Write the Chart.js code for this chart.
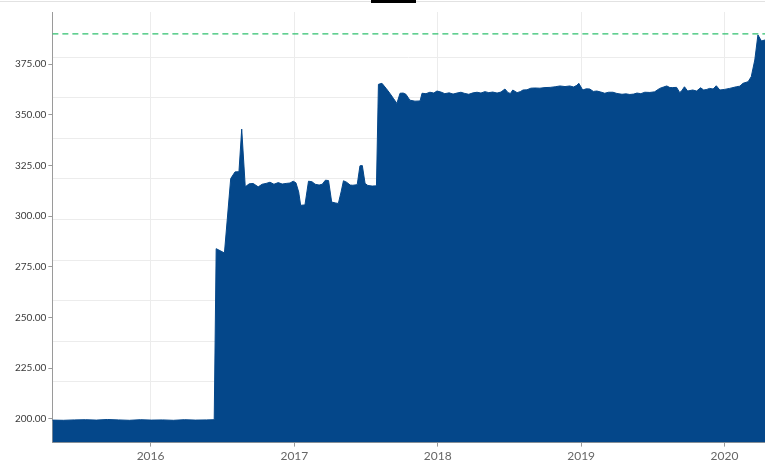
<!DOCTYPE html>
<html>
<head>
<meta charset="utf-8">
<script src="https://cdn.jsdelivr.net/npm/chart.js@4/dist/chart.umd.min.js"></script>
<style>
  body { margin: 0; background: #fff; overflow: hidden; }
  .wrap { position: relative; width: 765px; height: 463px; }
  .tabline { position: absolute; top: 1px; left: 0; width: 765px; height: 1px; background: #e2e2e2; }
  .tabactive { position: absolute; top: 0; left: 371px; width: 45px; height: 3px; background: #000; }
</style>
</head>
<body>
<div class="wrap">
  <canvas id="priceChart" width="765" height="463"></canvas>
  <div class="tabline"></div>
  <div class="tabactive"></div>
</div>
<script>
// weekly-ish price readings
const dates = [
  '2015-04-26','2015-05-24','2015-06-21','2015-07-19','2015-08-16','2015-09-13','2015-10-11','2015-11-08',
  '2015-12-06','2016-01-03','2016-01-31','2016-02-28','2016-03-27','2016-04-24','2016-05-22','2016-06-11',
  '2016-06-16','2016-07-07','2016-07-23','2016-08-03','2016-08-13','2016-08-20','2016-08-29','2016-09-08',
  '2016-09-18','2016-10-01','2016-10-11','2016-10-21','2016-10-31','2016-11-10','2016-11-21','2016-12-01',
  '2016-12-11','2016-12-21','2016-12-29','2017-01-05','2017-01-12','2017-01-17','2017-01-28','2017-02-06',
  '2017-02-15','2017-02-23','2017-03-05','2017-03-13','2017-03-21','2017-03-29','2017-04-06','2017-04-15',
  '2017-04-23','2017-04-30','2017-05-06','2017-05-14','2017-05-23','2017-05-30','2017-06-10','2017-06-17',
  '2017-06-23','2017-06-30','2017-07-07','2017-07-18','2017-07-29','2017-08-03','2017-08-12','2017-08-23',
  '2017-09-01','2017-09-10','2017-09-19','2017-09-27','2017-10-05','2017-10-12','2017-10-22','2017-11-04',
  '2017-11-17','2017-11-22','2017-12-02','2017-12-12','2017-12-22','2017-12-30','2018-01-09','2018-01-19',
  '2018-01-30','2018-02-09','2018-02-19','2018-03-01','2018-03-11','2018-03-21','2018-04-01','2018-04-11',
  '2018-04-21','2018-05-01','2018-05-11','2018-05-21','2018-06-01','2018-06-11','2018-06-21','2018-06-29',
  '2018-07-05','2018-07-11','2018-07-22','2018-07-30','2018-08-06','2018-08-16','2018-08-26','2018-09-05',
  '2018-09-18','2018-10-01','2018-10-14','2018-10-27','2018-11-08','2018-11-21','2018-12-03','2018-12-13',
  '2018-12-21','2018-12-26','2019-01-05','2019-01-14','2019-01-23','2019-02-01','2019-02-10','2019-02-20',
  '2019-03-02','2019-03-12','2019-03-23','2019-04-02','2019-04-15','2019-04-25','2019-05-05','2019-05-15',
  '2019-05-23','2019-06-02','2019-06-12','2019-06-25','2019-07-07','2019-07-20','2019-07-30','2019-08-07',
  '2019-08-15','2019-08-22','2019-09-01','2019-09-09','2019-09-15','2019-09-21','2019-09-29','2019-10-12',
  '2019-10-22','2019-11-01','2019-11-09','2019-11-17','2019-11-24','2019-12-03','2019-12-11','2019-12-20',
  '2020-01-01','2020-01-14','2020-01-31','2020-02-09','2020-02-17','2020-03-01','2020-03-09','2020-03-18',
  '2020-03-26','2020-03-31','2020-04-04','2020-04-13'
];
const prices = [
  199.4,199.3,199.5,199.6,199.4,199.7,199.5,199.3,
  199.6,199.4,199.5,199.3,199.6,199.4,199.5,199.6,
  284.0,281.9,318.6,321.9,322.0,343.0,314.5,316.0,
  316.2,314.5,315.8,316.2,316.8,315.8,316.6,315.9,
  316.2,316.4,317.3,316.5,312.0,305.4,305.6,317.3,
  317.0,315.8,315.4,315.8,317.8,317.6,307.0,306.6,
  306.3,312.0,317.5,316.8,315.4,315.3,315.6,324.9,
  325.0,316.2,315.2,314.9,315.0,365.1,365.6,363.0,
  360.7,358.2,355.7,360.7,360.8,360.2,357.3,356.8,
  356.9,360.7,360.5,361.2,360.8,361.8,361.3,360.5,
  360.9,360.3,360.8,361.2,360.6,360.2,360.9,361.2,
  360.8,361.5,361.0,361.3,360.8,361.3,362.8,361.0,
  360.6,362.3,361.0,361.5,362.3,362.4,363.2,363.3,
  363.2,363.5,363.6,363.9,364.3,364.0,364.3,363.8,
  364.6,365.6,362.3,362.9,362.8,361.6,361.8,361.3,
  360.7,361.2,361.2,360.6,360.2,360.4,360.1,360.3,
  360.8,360.5,361.2,361.1,361.4,363.1,363.8,364.3,
  363.5,363.5,363.6,361.0,362.2,363.9,361.8,362.3,
  361.8,363.4,362.3,362.6,363.1,362.8,364.4,362.3,
  362.6,363.1,363.9,364.2,365.6,366.4,368.9,377.1,
  389.5,387.8,386.5,387.0
];
const targetLevel = 390;
const yearLabels = ['2016', '2017', '2018', '2019', '2020'];
const yTickValues = [200, 225, 250, 275, 300, 325, 350, 375];

const xMin = Date.parse('2015-04-26');
const xMax = Date.parse('2020-04-13');

const points = dates.map((d, i) => ({ x: Date.parse(d), y: prices[i] }));
const yearTicks = yearLabels.map(y => Date.UTC(+y, 0, 1));

const gridColor = '#ececec';
const axisColor = '#9a9a9a';

new Chart(document.getElementById('priceChart'), {
  type: 'line',
  data: {
    datasets: [
      {
        label: 'target',
        data: [{ x: xMin, y: targetLevel }, { x: xMax, y: targetLevel }],
        borderColor: '#2fc06e',
        borderWidth: 1.3,
        borderDash: [6, 4],
        pointRadius: 0,
        fill: false
      },
      {
        label: 'price',
        data: points,
        borderColor: '#04478a',
        backgroundColor: '#04478a',
        borderWidth: 1,
        pointRadius: 0,
        tension: 0,
        fill: 'start'
      }
    ]
  },
  options: {
    responsive: false,
    animation: false,
    layout: { padding: { top: 12, left: 13, right: 0, bottom: -2 } },
    plugins: { legend: { display: false }, tooltip: { enabled: false } },
    scales: {
      x: {
        type: 'linear',
        min: xMin,
        max: xMax,
        afterBuildTicks: axis => { axis.ticks = yearTicks.map(v => ({ value: v })); },
        ticks: {
          callback: (v) => String(new Date(v).getUTCFullYear()),
          color: '#666',
          font: { family: 'Lato', size: 12 },
          padding: 2,
          maxRotation: 0
        },
        grid: { color: gridColor, tickColor: axisColor, tickLength: 4 },
        border: { color: axisColor }
      },
      y: {
        min: 188.3,
        max: 400.8,
        afterBuildTicks: axis => { axis.ticks = yTickValues.map(v => ({ value: v })); },
        ticks: {
          callback: v => v.toFixed(2),
          color: '#3a3a3a',
          font: { family: 'Lato', size: 10 },
          padding: 2
        },
        grid: { drawOnChartArea: false, tickColor: axisColor, tickLength: 4 },
        border: { color: axisColor }
      },
      // the horizontal grid follows its own 20-step spacing, not the labels
      yGrid: {
        position: 'left',
        min: 189.9,
        max: 402.4,
        ticks: { display: false, stepSize: 20 },
        afterBuildTicks: axis => { axis.ticks = axis.ticks.filter(t => t.value % 20 === 0); },
        grid: { color: gridColor, drawTicks: false },
        border: { display: false }
      }
    }
  }
});
</script>
</body>
</html>
